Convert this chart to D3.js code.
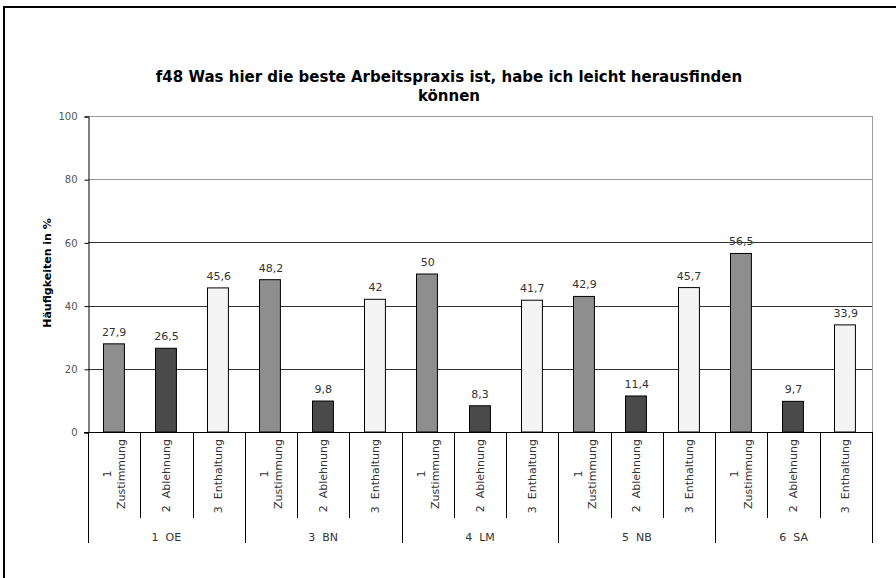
<!DOCTYPE html>
<html>
<head>
<meta charset="utf-8">
<script src="https://cdn.jsdelivr.net/npm/d3@7"></script>
<style>
  html, body { margin: 0; padding: 0; background: #fff; }
  svg { display: block; font-family: "DejaVu Sans", Verdana, sans-serif; }
  text { white-space: pre; }
</style>
</head>
<body>
<svg id="chart" width="896" height="578"></svg>
<script>
// Survey question f48, answers by unit (percent)
const titleLines = ["f48 Was hier die beste Arbeitspraxis ist, habe ich leicht herausfinden", "können"];
const yAxisTitle = "Häufigkeiten in %";
const groups = ["1  OE", "3  BN", "4  LM", "5  NB", "6  SA"];
const answers = ["1 Zustimmung", "2  Ablehnung", "3  Enthaltung"];
const zustimmung = [27.9, 48.2, 50, 42.9, 56.5];
const ablehnung = [26.5, 9.8, 8.3, 11.4, 9.7];
const enthaltung = [45.6, 42, 41.7, 45.7, 33.9];
const yTicks = [0, 20, 40, 60, 80, 100];

const seriesValues = [zustimmung, ablehnung, enthaltung];
const fills = ["#8e8e8e", "#4a4a4a", "#f4f4f4"];

const rows = [];
groups.forEach((g, gi) => {
  answers.forEach((a, ai) => {
    rows.push({ key: g + "|" + a, group: g, answer: a, ai, value: seriesValues[ai][gi] });
  });
});

const svg = d3.select("#chart");
const plotLeft = 88, plotRight = 872, plotTop = 116, plotBottom = 432;

const x = d3.scaleBand()
  .domain(rows.map(d => d.key))
  .range([plotLeft, plotRight])
  .paddingInner(0.6)
  .paddingOuter(0.3);
const step = x.step();

const y = d3.scaleLinear().domain([0, 100]).range([plotBottom, plotTop]);

// outer frame
svg.append("path")
  .attr("d", "M4,578V7H896")
  .attr("fill", "none")
  .attr("stroke", "#000")
  .attr("stroke-width", 2);

// title
const title = svg.append("text")
  .attr("x", 449)
  .attr("y", 82)
  .attr("text-anchor", "middle")
  .attr("font-weight", "bold")
  .attr("font-size", 15)
  .attr("fill", "#000");
titleLines.forEach((t, i) => {
  title.append("tspan").attr("x", 449).attr("dy", i === 0 ? 0 : 19).text(t);
});

// horizontal grid lines
svg.append("g")
  .selectAll("line")
  .data(yTicks.filter(t => t > 0))
  .join("line")
  .attr("x1", plotLeft).attr("x2", plotRight)
  .attr("y1", d => Math.round(y(d)) + 0.5)
  .attr("y2", d => Math.round(y(d)) + 0.5)
  .attr("stroke", d => d >= 80 ? "#9a9a9a" : "#333")
  .attr("stroke-width", 1);

// right border of plot area
svg.append("line")
  .attr("x1", plotRight + 0.5).attr("x2", plotRight + 0.5)
  .attr("y1", plotTop).attr("y2", plotBottom)
  .attr("stroke", "#9a9a9a");

// y axis
const yAxis = d3.axisLeft(y)
  .tickValues(yTicks)
  .tickSize(4)
  .tickPadding(7)
  .tickFormat(d3.format("d"));
const yg = svg.append("g")
  .attr("transform", `translate(${plotLeft + 0.5},0.5)`)
  .call(yAxis);
yg.select(".domain").attr("stroke", "#000");
yg.selectAll(".tick line").attr("stroke", "#000");
yg.selectAll(".tick text")
  .attr("font-family", "DejaVu Sans, sans-serif")
  .attr("font-size", 10)
  .attr("fill", "#555");

// y axis title
svg.append("text")
  .attr("transform", "translate(47,273) rotate(-90)")
  .attr("text-anchor", "middle")
  .attr("dominant-baseline", "central")
  .attr("font-weight", "bold")
  .attr("font-size", 11)
  .attr("fill", "#000")
  .text(yAxisTitle);

// bars
svg.append("g")
  .selectAll("rect")
  .data(rows)
  .join("rect")
  .attr("x", d => Math.round(x(d.key)) - 0.5)
  .attr("y", d => y(d.value))
  .attr("width", x.bandwidth())
  .attr("height", d => plotBottom - y(d.value))
  .attr("fill", d => fills[d.ai])
  .attr("stroke", "#000")
  .attr("stroke-width", 1);

// value labels
svg.append("g")
  .selectAll("text")
  .data(rows)
  .join("text")
  .attr("x", d => x(d.key) + x.bandwidth() / 2)
  .attr("y", d => y(d.value) - 8)
  .attr("text-anchor", "middle")
  .attr("font-size", 11)
  .attr("fill", "#333")
  .text(d => String(d.value).replace(".", ","));

// x axis line
svg.append("line")
  .attr("x1", plotLeft - 4).attr("x2", plotRight)
  .attr("y1", plotBottom + 0.5).attr("y2", plotBottom + 0.5)
  .attr("stroke", "#000");

// category dividers: short between answers, long between groups
const slotEdges = d3.range(rows.length + 1).map(i => plotLeft + i * step);
svg.append("g")
  .selectAll("line")
  .data(slotEdges)
  .join("line")
  .attr("x1", d => Math.round(d) + 0.5)
  .attr("x2", d => Math.round(d) + 0.5)
  .attr("y1", plotBottom)
  .attr("y2", (d, i) => i % answers.length === 0 ? 543 : 518)
  .attr("stroke", "#000");

// rotated answer labels, wrapped when longer than the available height
const maxLen = 76;
const catLabels = svg.append("g")
  .selectAll("text")
  .data(rows)
  .join("text")
  .attr("transform", d => `translate(${x(d.key) + x.bandwidth() / 2},439) rotate(-90)`)
  .attr("font-size", 11)
  .attr("fill", "#333")
  .attr("dominant-baseline", "central");
catLabels.each(function(d) {
  const t = d3.select(this);
  t.attr("text-anchor", "end").text(d.answer);
  if (this.getComputedTextLength() > maxLen) {
    const parts = d.answer.split(/\s+/);
    t.text(null);
    const rest = parts.slice(1).join(" ");
    const probe = t.append("tspan").text(rest);
    const len = probe.node().getComputedTextLength();
    probe.remove();
    t.attr("text-anchor", "middle");
    t.append("tspan").attr("x", -len / 2).attr("y", -7).text(parts[0]);
    t.append("tspan").attr("x", -len / 2).attr("y", 7).text(rest);
  }
});

// group labels
svg.append("g")
  .selectAll("text")
  .data(groups)
  .join("text")
  .attr("x", (g, i) => plotLeft + (i + 0.5) * step * answers.length)
  .attr("y", 537)
  .attr("text-anchor", "middle")
  .attr("dominant-baseline", "central")
  .attr("font-size", 11)
  .attr("fill", "#333")
  .text(g => g);
</script>
</body>
</html>
